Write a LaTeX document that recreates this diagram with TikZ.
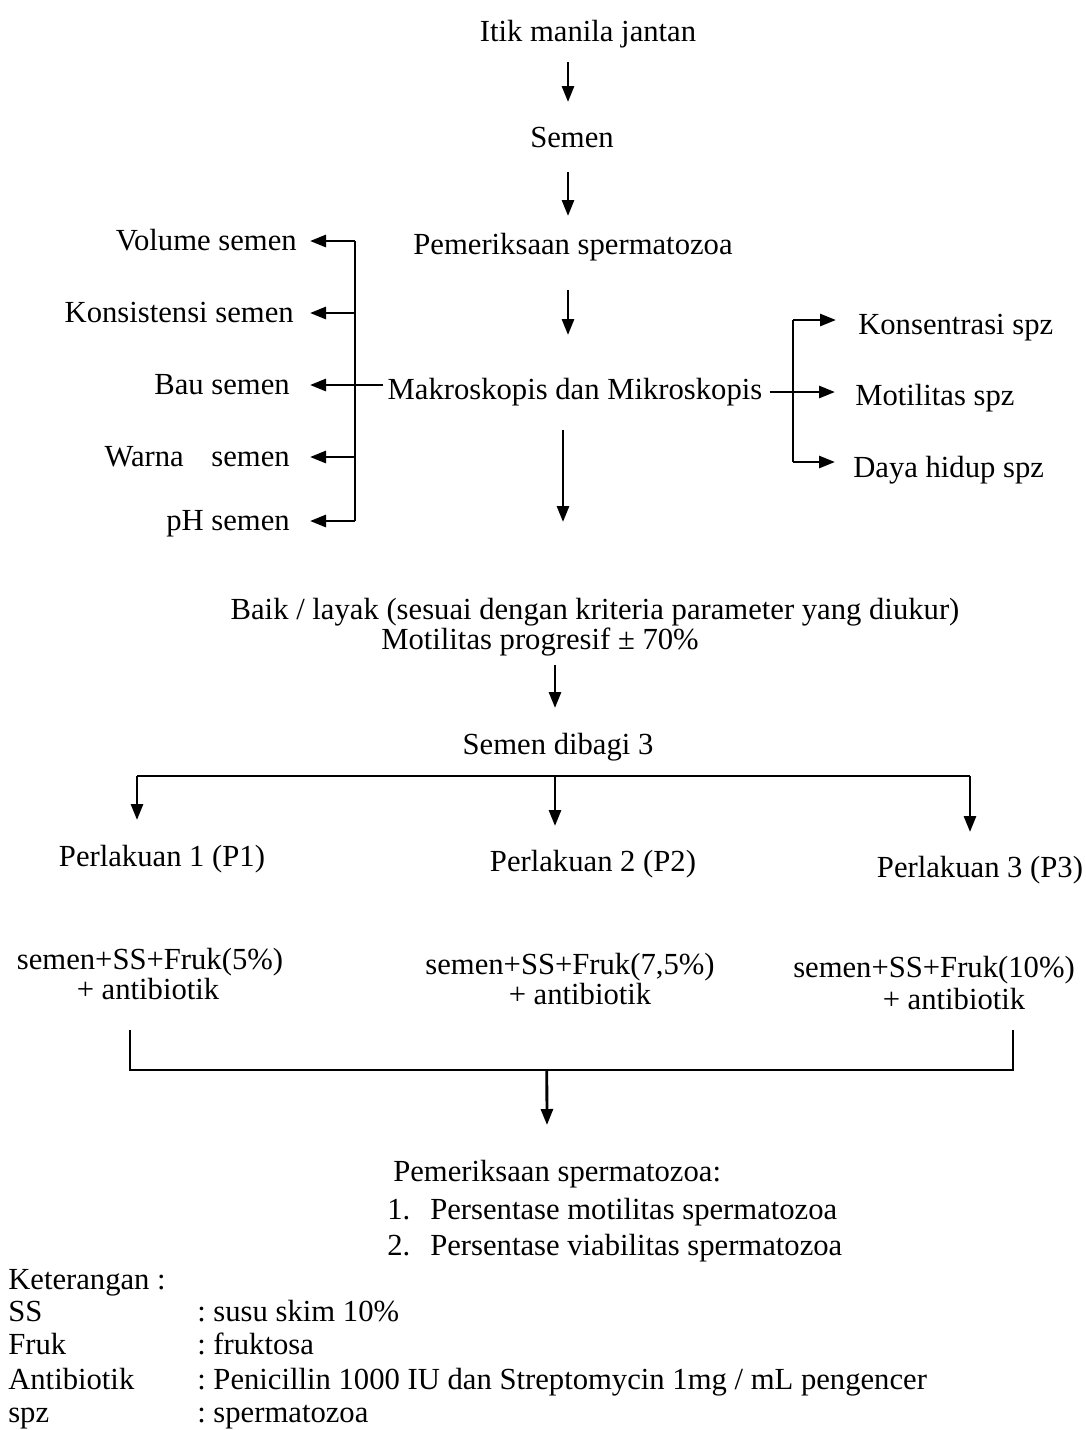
\documentclass[tikz,border=0pt]{standalone}
\usepackage{fontspec}
\setmainfont{Liberation Serif}
\usetikzlibrary{arrows.meta,calc}
\newcommand{\fsz}{\fontsize{21.8}{24}\selectfont}

\begin{document}
\begin{tikzpicture}[
  x=0.025cm, y=-0.025cm,
  txt/.style={inner sep=0pt, font=\fsz},
  arrow/.style={-{Triangle[length=4mm,width=3mm]}, line width=2pt},
  line/.style={line width=2pt}
]
\useasboundingbox (0,0) rectangle (1086,1430);

% main column
\node[txt, anchor=base] (itik) at (588,41) {Itik manila jantan};
\node[txt, anchor=base] (semen) at (572,147) {Semen};
\node[txt, anchor=base] (periksa) at (573,254) {Pemeriksaan spermatozoa};
\node[txt, anchor=base] (makro) at (575,399) {Makroskopis dan Mikroskopis};
\node[txt, anchor=base] (baik) at (595,619) {Baik / layak (sesuai dengan kriteria parameter yang diukur)};
\node[txt, anchor=base] (progresif) at (540,649) {Motilitas progresif ± 70\%};
\node[txt, anchor=base] (dibagi) at (558,754) {Semen dibagi 3};

% makroskopis
\node[txt, anchor=base east] (volume) at (297,250) {Volume semen};
\node[txt, anchor=base east] (konsistensi) at (294,322) {Konsistensi semen};
\node[txt, anchor=base east] (bau) at (290,394) {Bau semen};
\node[txt, anchor=base east] (warna) at (290,466) {Warna\hspace{0.9em}semen};
\node[txt, anchor=base east] (ph) at (290,530) {pH semen};

% mikroskopis
\node[txt, anchor=base west] (konsentrasi) at (858,334) {Konsentrasi spz};
\node[txt, anchor=base west] (motilitas) at (855,405) {Motilitas spz};
\node[txt, anchor=base west] (daya) at (853,477) {Daya hidup spz};

% perlakuan
\node[txt, anchor=base] (p1) at (162,866) {Perlakuan 1 (P1)};
\node[txt, anchor=base] (p2) at (593,871) {Perlakuan 2 (P2)};
\node[txt, anchor=base] (p3) at (980,877) {Perlakuan 3 (P3)};
\node[txt, anchor=base] (mix1) at (150,969) {semen+SS+Fruk(5\%)};
\node[txt, anchor=base] (ab1) at (148,999) {+ antibiotik};
\node[txt, anchor=base] (mix2) at (570,974) {semen+SS+Fruk(7,5\%)};
\node[txt, anchor=base] (ab2) at (580,1004) {+ antibiotik};
\node[txt, anchor=base] (mix3) at (934,977) {semen+SS+Fruk(10\%)};
\node[txt, anchor=base] (ab3) at (954,1009) {+ antibiotik};

% hasil
\node[txt, anchor=base west] (hasil) at (393,1181) {Pemeriksaan spermatozoa:};
\node[txt, anchor=base west] (hasil1) at (387,1219) {\makebox[1.075cm][l]{1.}Persentase motilitas spermatozoa};
\node[txt, anchor=base west] (hasil2) at (387,1255) {\makebox[1.075cm][l]{2.}Persentase viabilitas spermatozoa};

% keterangan
\node[txt, anchor=base west] (ket) at (8,1289) {Keterangan :};
\node[txt, anchor=base west] (kSS) at (8,1321) {SS};
\node[txt, anchor=base west] (kFruk) at (8,1354) {Fruk};
\node[txt, anchor=base west] (kAnti) at (8,1389) {Antibiotik};
\node[txt, anchor=base west] (kSpz) at (8,1422) {spz};
\node[txt, anchor=base west] (vSS) at (197,1321) {:\ susu skim 10\%};
\node[txt, anchor=base west] (vFruk) at (197,1354) {:\ fruktosa};
\node[txt, anchor=base west] (vAnti) at (197,1389) {:\ Penicillin 1000 IU dan Streptomycin 1mg / mL pengencer};
\node[txt, anchor=base west] (vSpz) at (197,1422) {:\ spermatozoa};

% main arrows
\draw[arrow] ($(itik.base)+(-20,21)$) -- ($(semen.base)+(-4,-45)$);
\draw[arrow] ($(semen.base)+(-4,25)$) -- ($(periksa.base)+(-5,-38)$);
\draw[arrow] ($(periksa.base)+(-5,36)$) -- ($(makro.base)+(-7,-64)$);
\draw[arrow] ($(makro.base)+(-12,31)$) -- ($(baik.base)+(-32,-97)$);
\draw[arrow] ($(progresif.base)+(15,16)$) -- ($(dibagi.base)+(-3,-46)$);

% left branch
\coordinate (lbar) at (355,0);
\coordinate (vTip) at ($(volume.base east)+(13,-9)$);
\coordinate (kTip) at ($(konsistensi.base east)+(16,-9)$);
\coordinate (bTip) at ($(bau.base east)+(20,-9)$);
\coordinate (wTip) at ($(warna.base east)+(20,-9)$);
\coordinate (pTip) at ($(ph.base east)+(20,-9)$);
\draw[line] (lbar |- vTip) -- (lbar |- pTip);
\draw[arrow] (lbar |- vTip) -- (vTip);
\draw[arrow] (lbar |- kTip) -- (kTip);
\draw[arrow] ($(makro.base west)+(-4,-14)$) -- (bTip);
\draw[arrow] (lbar |- wTip) -- (wTip);
\draw[arrow] (lbar |- pTip) -- (pTip);

% right branch
\coordinate (rbar) at (793,0);
\coordinate (ksTip) at ($(konsentrasi.base west)+(-22,-14)$);
\coordinate (mTip) at ($(motilitas.base west)+(-20,-13)$);
\coordinate (dTip) at ($(daya.base west)+(-18,-15)$);
\draw[line] (rbar |- ksTip) -- (rbar |- dTip);
\draw[arrow] (rbar |- ksTip) -- (ksTip);
\draw[arrow] ($(makro.base east)+(7,-7)$) -- (mTip);
\draw[arrow] (rbar |- dTip) -- (dTip);

% split into 3
\coordinate (splitL) at (137,776);
\coordinate (splitR) at (970,776);
\draw[line] (splitL) -- (splitR);
\draw[arrow] (splitL) -- ($(p1.base)+(-25,-46)$);
\draw[arrow] ($(dibagi.base)+(-3,22)$) -- ($(p2.base)+(-38,-45)$);
\draw[arrow] (splitR) -- ($(p3.base)+(-10,-45)$);

% join
\coordinate (joinL) at (130,1070);
\coordinate (joinR) at (1013,1070);
\draw[line] ($(ab1.base)+(-18,31)$) -- (joinL) -- (joinR) -- ($(ab3.base)+(59,21)$);
\draw[arrow] ($(joinL)!0.472!(joinR)$) -- ($(hasil.base west)+(154,-56)$);
\end{tikzpicture}
\end{document}
